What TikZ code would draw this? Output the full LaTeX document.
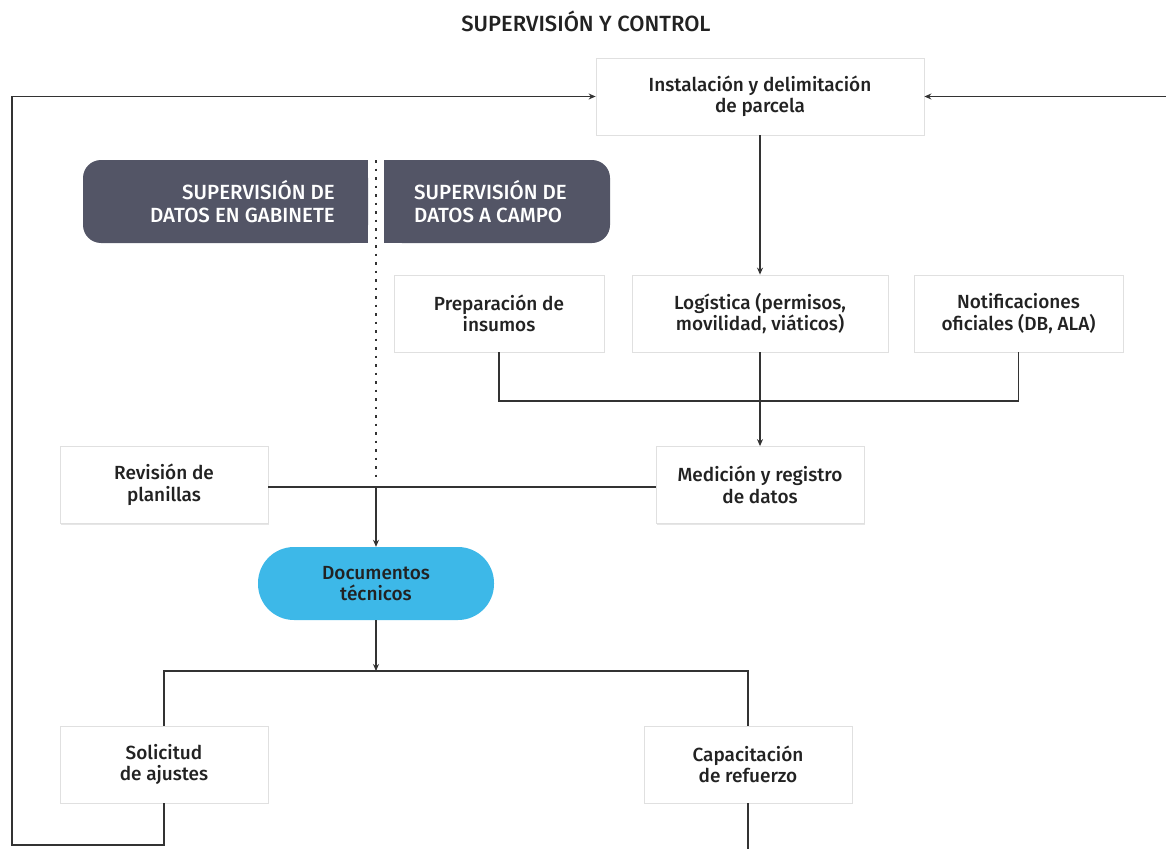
\documentclass[tikz,border=0pt]{standalone}
\usepackage{fontspec}
\setmainfont{Fira Sans}[BoldFont={Fira Sans Medium}]
\usetikzlibrary{arrows.meta,shadows,calc}
\definecolor{hdr}{HTML}{535566}
\definecolor{pillc}{HTML}{3DB8E8}
\definecolor{lnc}{HTML}{333333}
\definecolor{txt}{HTML}{222222}
\begin{document}
\begin{tikzpicture}[x=1pt,y=-1pt,
  box/.style={draw=black!12, line width=0.8pt, fill=white, text=txt,
    font=\fontsize{19}{21.5}\selectfont\bfseries, align=center,
    minimum width=#1, minimum height=77pt, inner sep=2pt,
    drop shadow={opacity=0.2, shadow xshift=0.5pt, shadow yshift=-1.2pt}},
  box/.default=208pt,
  pillbox/.style={fill=pillc, text=txt, rounded corners=36pt,
    font=\fontsize{19}{21.5}\selectfont\bfseries, align=center,
    minimum width=236pt, minimum height=73pt, inner sep=2pt},
  hdrbox/.style={fill=hdr, rounded corners=18pt, minimum height=83pt, inner sep=0pt},
  hdrtxt/.style={text=white, font=\fontsize{20.5}{23}\selectfont\bfseries, inner sep=0pt},
  ln/.style={draw=lnc, line width=1.3pt},
  arr/.style={ln, -{Stealth[length=7pt,width=6pt]}},
  dotline/.style={draw=lnc, line width=2pt, dash pattern=on 2.5pt off 6pt}]
\useasboundingbox (0,0) rectangle (1166,848);

% title
\node[text=txt, font=\fontsize{22}{24}\selectfont\bfseries] (title) at (586,21) {SUPERVISIÓN Y CONTROL};

% headers
\node[hdrbox, minimum width=285pt] (hl) at (225.5,201.5) {};
\fill[hdr] (hl.north) rectangle (hl.south east);
\node[hdrbox, minimum width=226pt] (hr) at (497,201.5) {};
\fill[hdr] (hr.north west) rectangle (hr.south);
\node[hdrtxt, anchor=east, align=right] (hlt) at (335,201.5) {SUPERVISIÓN DE\\DATOS EN GABINETE};
\node[hdrtxt, anchor=west, align=left] (hrt) at (414,201.5) {SUPERVISIÓN DE\\DATOS A CAMPO};

% nodes
\node[box=328pt] (inst) at (760,96.5) {Instalación y delimitación\\de parcela};
\node[box=210pt] (prep) at (499,313.5) {Preparación de\\insumos};
\node[box=256pt] (log) at (760,313.5) {Logística (permisos,\\movilidad, viáticos)};
\node[box=209pt] (noti) at (1018.5,313.5) {Notificaciones\\oficiales (DB, ALA)};
\node[box=208pt] (med) at (760,485) {Medición y registro\\de datos};
\node[box=208pt] (rev) at (164,485) {Revisión de\\planillas};
\node[pillbox] (doc) at (376,583.5) {Documentos\\técnicos};
\node[box=208pt] (sol) at (164,764.5) {Solicitud\\de ajustes};
\node[box=208pt] (cap) at (748,764.5) {Capacitación\\de refuerzo};

% coordinates
\coordinate (dtop) at (376,160);
\coordinate (dbot) at (376,478);
\coordinate (j) at (760,401);
\coordinate (k) at (376,487);
\coordinate (b) at (376,671);
\coordinate (lb) at (12,845);
\coordinate (re) at (1170,96.5);
\coordinate (cb) at (748,852);

% connectors
\draw[dotline] (dtop) -- (dbot);
\draw[arr] (inst.south) -- (log.north);
\draw[ln] (prep.south) |- (j);
\draw[ln] (noti.south) |- (j);
\draw[arr] (log.south) -- (med.north);
\draw[ln] (rev.east |- k) -- (med.west |- k);
\draw[arr] (k) -- (doc.north);
\draw[arr] (doc.south) -- (b);
\draw[ln] (sol.north) |- (b) -| (cap.north);
\draw[arr] (sol.south) |- (lb) |- (inst.west);
\draw[arr] (re) -- (inst.east);
\draw[ln] (cap.south) -- (cb);
\end{tikzpicture}
\end{document}
